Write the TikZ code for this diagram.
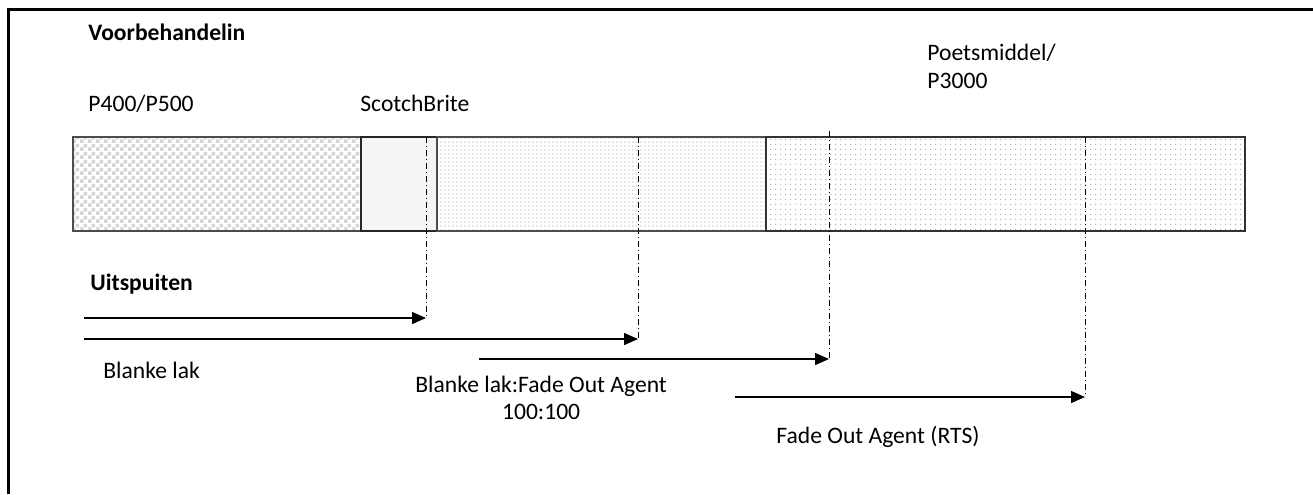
\documentclass[tikz,border=0pt]{standalone}
\usepackage{fontspec}
\setmainfont{Carlito}
\usetikzlibrary{patterns,arrows.meta}
\pgfdeclarepatternformonly{chk}{\pgfpointorigin}{\pgfpoint{4pt}{4pt}}{\pgfpoint{4pt}{4pt}}{%
  \pgfpathrectangle{\pgfpointorigin}{\pgfpoint{2pt}{2pt}}%
  \pgfpathrectangle{\pgfpoint{2pt}{2pt}}{\pgfpoint{2pt}{2pt}}%
  \pgfusepath{fill}}
\pgfdeclarepatternformonly{densedots}{\pgfpointorigin}{\pgfpoint{2pt}{2pt}}{\pgfpoint{2pt}{2pt}}{%
  \pgfpathrectangle{\pgfpointorigin}{\pgfpoint{1pt}{1pt}}%
  \pgfusepath{fill}}
\pgfdeclarepatternformonly{sparsedots}{\pgfpointorigin}{\pgfpoint{2.5pt}{2.5pt}}{\pgfpoint{2.5pt}{2.5pt}}{%
  \pgfpathrectangle{\pgfpointorigin}{\pgfpoint{0.6pt}{0.6pt}}%
  \pgfusepath{fill}}
\tikzset{
  lbl/.style={anchor=base west,inner sep=0pt,font=\fontsize{11.8pt}{14pt}\selectfont},
  blbl/.style={lbl,font=\fontsize{11.8pt}{14pt}\selectfont\bfseries},
  seg/.style={draw=black!70,line width=0.7pt},
  dashdot/.style={line width=0.5pt,dash pattern=on 3pt off 1.5pt on 0.5pt off 1.5pt},
  flow/.style={line width=0.7pt,-{Triangle[length=7pt,width=6pt]}},
}
\begin{document}
\begin{tikzpicture}[x=0.5pt,y=-0.5pt]
\useasboundingbox (0,0) rectangle (1313,494);
% frame
\draw[line width=1.5pt] (1313,9) -- (8.5,9) -- (8.5,494);
% texts
\node[blbl] (voor) at (88,40) {Voorbehandelin};
\node[lbl] (p400) at (88,111) {P400/P500};
\node[lbl] (scotch) at (360,111) {ScotchBrite};
\node[lbl] (poets) at (927,60) {Poetsmiddel/};
\node[lbl] (p3000) at (927,88) {P3000};
\node[blbl] (uit) at (90,290) {Uitspuiten};
\node[lbl] (bl) at (103,378) {Blanke lak};
\node[lbl] (blf) at (415,392) {Blanke lak:Fade Out Agent};
\node[lbl,anchor=base] (ratio) at (blf.base |- 0,419) {100:100};
\node[lbl] (foa) at (776,443) {Fade Out Agent (RTS)};
% bar segments
\fill[white] (73,137) rectangle (1245,231);
\fill[pattern=chk,pattern color=black!16] (73,137) rectangle (361,231);
\draw[seg] (73,137) rectangle (361,231);
\fill[black!4] (361,137) rectangle (437,231);
\draw[seg,draw=black!85] (361,137) rectangle (437,231);
\fill[pattern=densedots,pattern color=black!13] (437,137) rectangle (766,231);
\draw[seg] (437,137) rectangle (766,231);
\fill[pattern=sparsedots,pattern color=black!30] (766,137) rectangle (1245,231);
\draw[seg,draw=black!80] (766,137) rectangle (1245,231);
% dash-dot guide lines
\coordinate (t1) at (426,137); \coordinate (e1) at (426,318);
\coordinate (t2) at (638,137); \coordinate (e2) at (638,339);
\coordinate (t3) at (829,131); \coordinate (e3) at (829,359);
\coordinate (t4) at (1085,137); \coordinate (e4) at (1085,397);
\draw[dashdot] (t1) -- (e1);
\draw[dashdot] (t2) -- (e2);
\draw[dashdot] (t3) -- (e3);
\draw[dashdot] (t4) -- (e4);
% arrows
\coordinate (s1) at (84,318);
\coordinate (s2) at (84,339);
\coordinate (s3) at (479,359);
\coordinate (s4) at (735,397);
\draw[flow] (s1) -- (e1);
\draw[flow] (s2) -- (e2);
\draw[flow] (s3) -- (e3);
\draw[flow] (s4) -- (e4);
\end{tikzpicture}
\end{document}
